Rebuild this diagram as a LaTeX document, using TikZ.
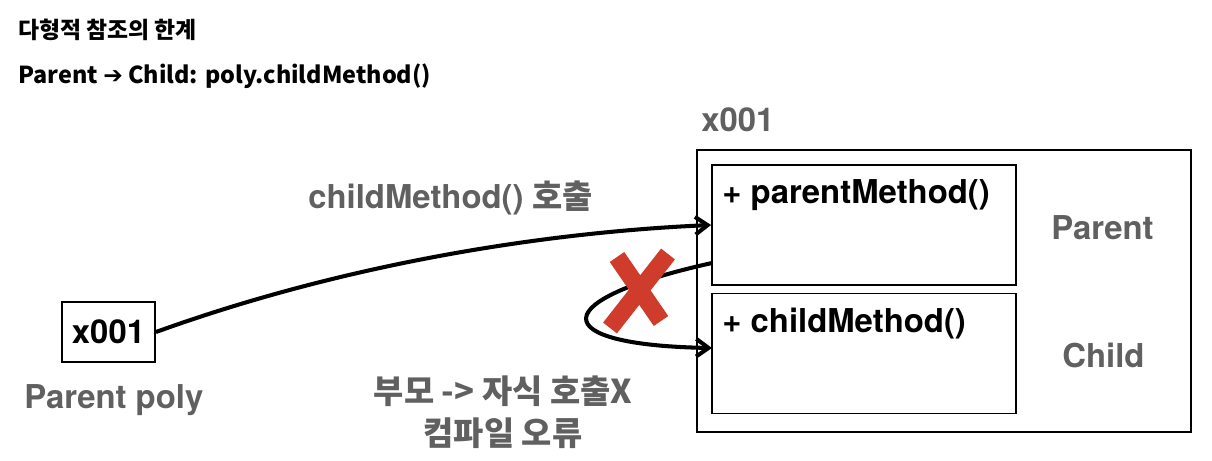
\documentclass[tikz,border=0pt]{standalone}
\usepackage{fontspec}
\usepackage{xcolor}
\usepackage{tikz}
\usetikzlibrary{arrows.meta}
\setmainfont{TeX Gyre Heros}
\newfontfamily\krfont{Noto Sans CJK KR}
\newfontfamily\symfont{DejaVu Sans}
\definecolor{labelgray}{HTML}{606060}
\definecolor{crossred}{HTML}{D03C2C}

\begin{document}
\begin{tikzpicture}[x=0.02cm,y=-0.02cm,
    big/.style={font=\fontsize{18.7pt}{22pt}\selectfont\bfseries},
    graytxt/.style={big,text=labelgray},
    box/.style={draw,line width=1.1pt,inner sep=0pt},
    call/.style={line width=2.3pt,-{Straight Barb[length=7pt,width=10pt]}}]
            \useasboundingbox (0,0) rectangle (1212,460);
            %제목
            \node[anchor=base west,inner sep=0pt,font=\krfont\bfseries\fontsize{13pt}{16pt}\selectfont] (title) at (18,38) {다형적 참조의 한계};
            \node[anchor=base west,inner sep=0pt,font=\krfont\bfseries\fontsize{13.3pt}{16pt}\selectfont] (subtitle) at (18,83) {Parent {\symfont\bfseries ➔} Child: poly.childMethod()};
            %참조 변수
            \node[box,big,minimum width=1.86cm,minimum height=1.2cm] (poly) at (108.5,332) {x001};
            \node[graytxt,anchor=base west,inner sep=0pt] (polyname) at (24,408) {Parent poly};
            %인스턴스
            \node[box,minimum width=9.88cm,minimum height=5.64cm] (obj) at (944,291) {};
            \node[graytxt,anchor=base west,inner sep=0pt] (addr) at (701,131) {x001};
            \foreach \n/\y in {parentbox/225,childbox/353.5}{\node[box,minimum width=6.08cm,minimum height=2.4cm] (\n) at (864,\y) {};}
            \node[big,anchor=base west,inner sep=0pt] (pmethod) at (722,203) {+ parentMethod()};
            \node[big,anchor=base west,inner sep=0pt] (cmethod) at (722,332) {+ childMethod()};
            \node[graytxt,anchor=base west,inner sep=0pt] (ptype) at (1051,239) {Parent};
            \node[graytxt,anchor=base west,inner sep=0pt] (ctype) at (1062,367) {Child};
            %호출 화살표
            \node[graytxt,anchor=base west,inner sep=0pt] (calltxt) at (308,208) {childMethod() {\krfont 호출}};
            \draw[call] (poly.east) .. controls (350,262) and (550,232) .. (parentbox.west);
            \coordinate (loopstart) at (712,263);
            \coordinate (loopend) at (712,348);
            \draw[call] (loopstart) .. controls (545,300) and (545,345) .. (loopend);
            %X 표시
            \draw[crossred,line width=10pt] (617,257) -- (661,321);
            \draw[crossred,line width=10pt] (668,254) -- (610,328);
            \node[graytxt,font=\krfont\bfseries\fontsize{18.7pt}{23.8pt}\selectfont,align=center,anchor=base,inner sep=0pt] (errtxt) at (503,445) {부모 -> 자식 호출X\\컴파일 오류};
        \end{tikzpicture}
\end{document}
